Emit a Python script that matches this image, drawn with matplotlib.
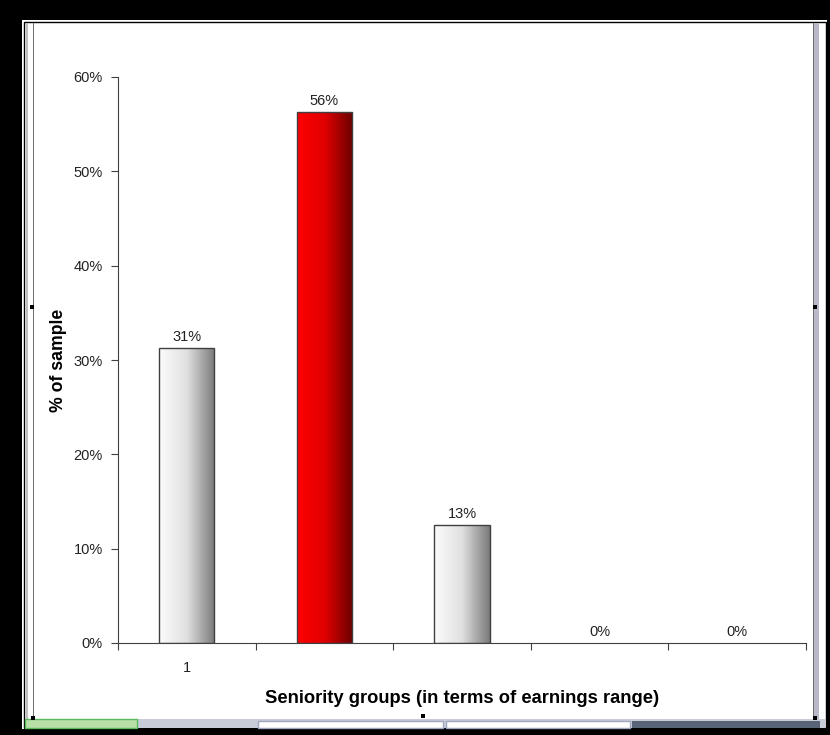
import matplotlib
matplotlib.use("Agg")
import matplotlib.pyplot as plt
import numpy as np
from matplotlib.colors import LinearSegmentedColormap
from matplotlib.patches import Rectangle

# data (16 people in the sample)
categories = ["1", "", "", "", ""]
shares = [0.3125, 0.5625, 0.125, 0.0, 0.0]
value_labels = ["31%", "56%", "13%", "0%", "0%"]
highlight = [False, True, False, False, False]
y_ticks = [0.0, 0.1, 0.2, 0.3, 0.4, 0.5, 0.6]
y_tick_labels = ["0%", "10%", "20%", "30%", "40%", "50%", "60%"]

W, H = 830, 735
plt.rcParams["font.family"] = ["Liberation Sans", "DejaVu Sans"]

fig = plt.figure(figsize=(W / 100, H / 100), dpi=100, facecolor="black")

# window frame drawn in pixel coordinates on a background axes
bg = fig.add_axes([0, 0, 1, 1])
bg.set_xlim(0, W)
bg.set_ylim(H, 0)
bg.axis("off")
bg.add_patch(Rectangle((22, 20), 805, 709, facecolor="white", edgecolor="none"))
bg.add_patch(Rectangle((23.5, 21.5), 802, 706, facecolor="white", edgecolor="black", lw=1))
bg.add_patch(Rectangle((26, 23), 2, 696, facecolor="#c0c0c0", edgecolor="none"))
bg.add_patch(Rectangle((33, 23), 1, 696, facecolor="#707070", edgecolor="none"))
bg.add_patch(Rectangle((813, 23), 1, 696, facecolor="#707070", edgecolor="none"))
bg.add_patch(Rectangle((814, 23), 5, 696, facecolor="#b8b8c8", edgecolor="none"))
# taskbar strip at the bottom
bg.add_patch(Rectangle((25, 719), 800, 9, facecolor="#c8ccd8", edgecolor="none"))
bg.add_patch(Rectangle((25, 719), 112, 9, facecolor="#b8e0a8", edgecolor="#5cb85c", lw=1))
bg.add_patch(Rectangle((258, 721), 185, 7, facecolor="white", edgecolor="#a0a8c0", lw=1))
bg.add_patch(Rectangle((446, 721), 184, 7, facecolor="white", edgecolor="#a0a8c0", lw=1))
bg.add_patch(Rectangle((632, 721), 188, 7, facecolor="#5a6478", edgecolor="none"))
# selection handles
for hx, hy in [(33, 718), (423, 716), (815, 718), (32, 307), (815, 307)]:
    bg.add_patch(Rectangle((hx - 2, hy - 2), 4, 4, facecolor="black", edgecolor="none"))

ax = fig.add_axes([118 / W, (H - 643) / H, (806 - 118) / W, (643 - 77) / H])
ax.set_facecolor("none")

x = np.arange(len(categories))
bars = ax.bar(x, shares, width=0.4, edgecolor="#404040", linewidth=1, zorder=3)

grey_cmap = LinearSegmentedColormap.from_list("grey", ["#fcfcfc", "#e0e0e0", "#7a7a7a"])
red_cmap = LinearSegmentedColormap.from_list("red", ["#ff0000", "#e00000", "#6a0000"])
grad = np.linspace(0, 1, 256).reshape(1, -1)
for bar, hi in zip(bars, highlight):
    if bar.get_height() <= 0:
        bar.set_visible(False)
        continue
    bx, bw, bh = bar.get_x(), bar.get_width(), bar.get_height()
    im = ax.imshow(grad, extent=[bx, bx + bw, 0, bh], aspect="auto",
                   cmap=red_cmap if hi else grey_cmap, zorder=2)
    im.set_clip_path(bar)
    bar.set_facecolor("none")

for bar, lab in zip(bars, value_labels):
    ax.annotate(lab, (bar.get_x() + bar.get_width() / 2, bar.get_height()),
                xytext=(0, 3), textcoords="offset points",
                ha="center", va="bottom", fontsize=10.5, color="#222222")

ax.set_xlim(-0.5, len(categories) - 0.5)
ax.set_ylim(0, 0.6)

ax.set_yticks(y_ticks)
ax.set_yticklabels(y_tick_labels, fontsize=10.5, color="#222222")
ax.set_xticks(np.arange(len(categories) + 1) - 0.5)
ax.set_xticklabels([])
ax.set_xticks(x, minor=True)
ax.set_xticklabels(categories, minor=True, fontsize=10.5, color="#222222")
ax.tick_params(axis="x", which="minor", length=0, pad=13)
ax.tick_params(axis="x", which="major", direction="out", length=5, color="#404040")
ax.tick_params(axis="y", direction="out", length=5, color="#404040", pad=6)

for side in ["top", "right"]:
    ax.spines[side].set_visible(False)
for side in ["left", "bottom"]:
    ax.spines[side].set_color("#404040")

ax.set_xlabel("Seniority groups (in terms of earnings range)", fontsize=13.2,
              fontweight="bold", labelpad=11)
ax.set_ylabel("% of sample", fontsize=12.7, fontweight="bold", labelpad=5)

fig.savefig("out.png", dpi=100, facecolor="black")
